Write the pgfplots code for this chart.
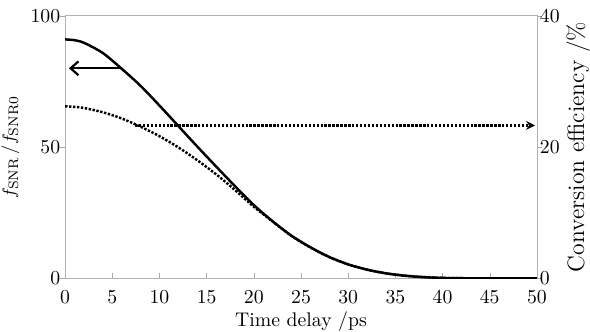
\documentclass[border=0pt]{standalone}
\usepackage{pgfplots}
\pgfplotsset{compat=1.18}
\usetikzlibrary{arrows.meta}
\begin{document}
\begin{tikzpicture}
\begin{axis}[
  scale only axis, width=239pt, height=133pt,
  xmin=0, xmax=50, ymin=0, ymax=100,
  xtick={0,5,...,50}, ytick={0,50,100},
  xtick pos=bottom, ytick pos=left,
  tick align=inside, major tick length=2.5pt,
  every major y tick/.append style={xshift=-2.5pt},
  axis line style={gray!60}, tick style={gray!70},
  xticklabel style={yshift=-3pt},
  yticklabel style={xshift=1pt},
  xlabel={Time delay /ps},
  xlabel style={at={(axis description cs:0.5,0)}, anchor=base, yshift=-24.5pt, inner sep=0pt},
  ylabel={\fontsize{9.5}{11}\selectfont $f_{\mathrm{SNR}}\,/f_{\mathrm{SNR0}}$},
  ylabel style={at={(axis description cs:0,0.5)}, anchor=south, yshift=23pt, inner sep=0pt},
]
\addplot[black, line width=1.25pt, smooth] coordinates {
(0,91)(1,90.7)(2,89.7)(4,85.8)(6,79.8)(8,73.3)(10,65.8)(12,58)(14,50.2)(16,42.6)(18,35.1)(20,27.9)(22,21.7)(24,16.2)(26,11.8)(28,8.1)(30,5.3)(32,3.3)(34,1.9)(36,1.0)(38,0.45)(40,0.15)(42,0.04)(44,0)(50,0)
};
\addplot[black, line width=1.1pt, -{Straight Barb[length=4pt,width=7pt]}] coordinates {(5.8,80)(0.4,80)};
\end{axis}
\begin{axis}[
  scale only axis, width=239pt, height=133pt,
  xmin=0, xmax=50, ymin=0, ymax=40,
  axis x line=none, axis y line*=right,
  ytick={0,20,40},
  tick align=inside, major tick length=2.5pt,
  every major y tick/.append style={xshift=2.5pt},
  axis line style={gray!60}, tick style={gray!70},
  yticklabel style={xshift=-2pt},
  ylabel={\fontsize{12}{14}\selectfont Conversion efficiency /\%},
  ylabel style={at={(axis description cs:1,0.5)}, anchor=north, yshift=-14.7pt, inner sep=0pt},
]
\addplot[black, line width=1.25pt, smooth, dash pattern=on 1.2pt off 0.8pt] coordinates {
(0,26.2)(1,26.12)(2,25.95)(4,25.3)(6,24.35)(8,23.1)(10,21.65)(12,19.95)(14,18.0)(16,15.85)(18,13.45)(20,10.9)(22,8.65)(24,6.45)(26,4.7)(28,3.24)(30,2.12)(32,1.32)(34,0.76)(36,0.4)(38,0.18)(40,0.06)(42,0.016)(44,0)(50,0)
};
\addplot[black, line width=1.2pt, dash pattern=on 1.2pt off 0.8pt, -{Stealth[length=4.5pt,width=4.5pt,sep=0pt]}] coordinates {(7.4,23.3)(49.8,23.3)};
\end{axis}
\path ([xshift=-33pt,yshift=8pt]current axis.north west);
\end{tikzpicture}
\end{document}
